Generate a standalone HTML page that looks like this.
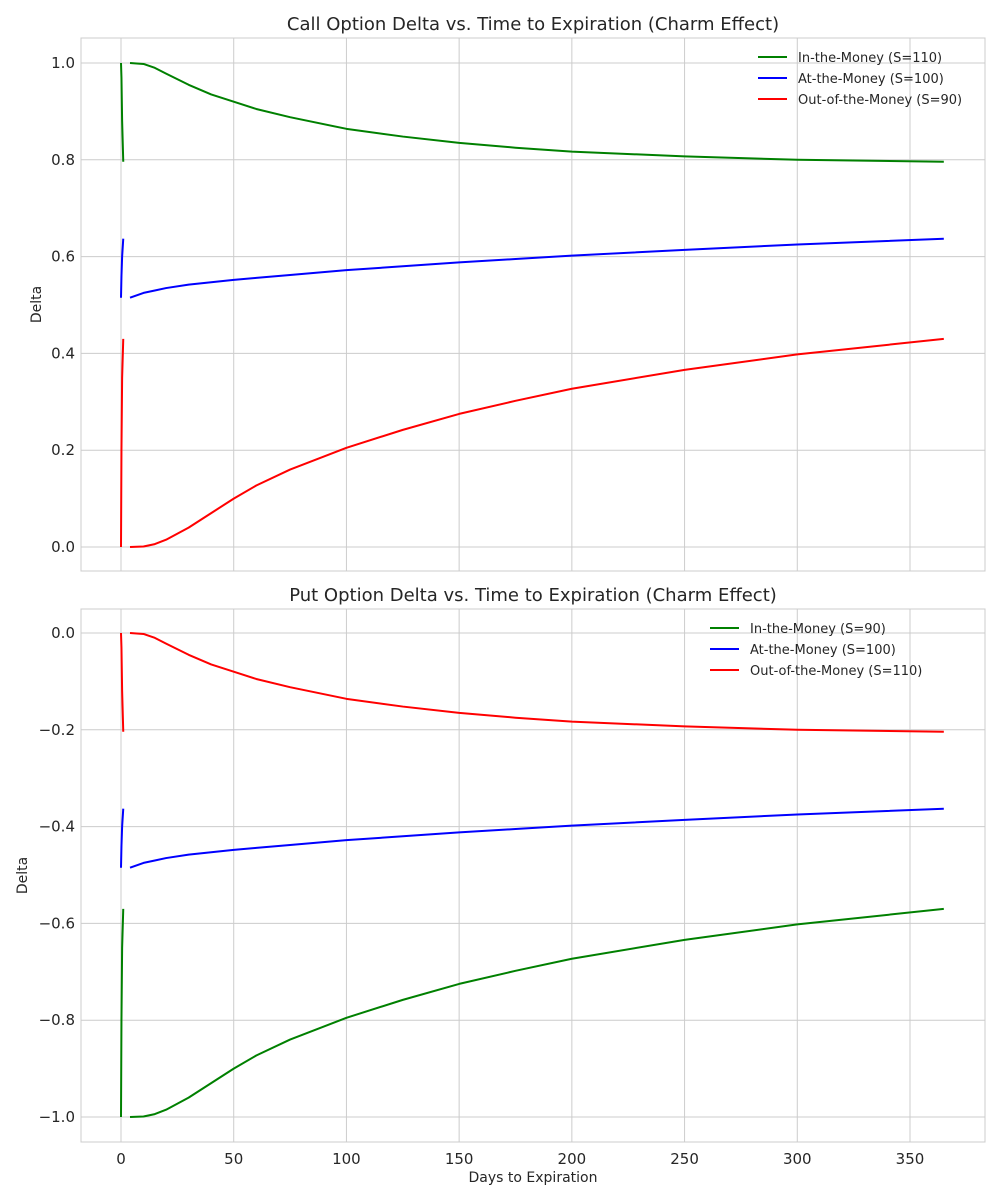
<!DOCTYPE html>
<html><head><meta charset="utf-8"><style>
body{margin:0;background:#fff;}
svg{display:block;font-family:"DejaVu Sans","Liberation Sans",sans-serif;}
</style></head><body>
<svg id="chart" width="1000" height="1200"></svg>
<script>
const days = [4,10,15,20,30,40,50,60,75,100,125,150,175,200,250,300,365];
const spikeDays = [0,0.2,0.5,1];
const callItm = [1.0,0.998,0.99,0.978,0.955,0.935,0.92,0.905,0.888,0.864,0.848,0.835,0.825,0.817,0.807,0.8,0.796];
const callAtm = [0.515,0.525,0.53,0.535,0.542,0.547,0.552,0.556,0.562,0.572,0.58,0.588,0.595,0.602,0.614,0.625,0.637];
const callOtm = [0,0.001,0.006,0.015,0.04,0.07,0.1,0.127,0.16,0.205,0.242,0.275,0.302,0.327,0.366,0.398,0.43];
const callItmSpike = [1.0,0.97,0.88,0.796];
const callAtmSpike = [0.515,0.56,0.6,0.637];
const callOtmSpike = [0,0.2,0.35,0.43];
const putItm = [-1.0,-0.999,-0.994,-0.985,-0.96,-0.93,-0.9,-0.873,-0.84,-0.795,-0.758,-0.725,-0.698,-0.673,-0.634,-0.602,-0.57];
const putAtm = [-0.485,-0.475,-0.47,-0.465,-0.458,-0.453,-0.448,-0.444,-0.438,-0.428,-0.42,-0.412,-0.405,-0.398,-0.386,-0.375,-0.363];
const putOtm = [0,-0.002,-0.01,-0.022,-0.045,-0.065,-0.08,-0.095,-0.112,-0.136,-0.152,-0.165,-0.175,-0.183,-0.193,-0.2,-0.204];
const putItmSpike = [-1.0,-0.8,-0.65,-0.57];
const putAtmSpike = [-0.485,-0.44,-0.4,-0.363];
const putOtmSpike = [0,-0.03,-0.12,-0.204];
const xTicks = [0,50,100,150,200,250,300,350];
const callTicks = [0,0.2,0.4,0.6,0.8,1.0];
const putTicks = [0,-0.2,-0.4,-0.6,-0.8,-1.0];

const NS="http://www.w3.org/2000/svg";
const svg=document.getElementById('chart');
function mk(tag,attrs,parent){const e=document.createElementNS(NS,tag);for(const k in attrs)e.setAttribute(k,attrs[k]);(parent||svg).appendChild(e);return e;}
const X=d=>121+d*(789/350);
function fmt(v){const s=Math.abs(v).toFixed(1);return (v<0?'\u2212':'')+s;}

function panel(name,top,bottom,yZeroPx,yScale,yOffset,title,ticks,series,labels,showX){
  const Y=v=>yZeroPx-(v-yOffset)*yScale;
  const g=mk('g',{});
  
  
  xTicks.forEach(t=>{const l=mk('line',{x1:X(t),x2:X(t),y1:top,y2:bottom,stroke:'#cccccc','stroke-width':1},g);
    
    if(showX){
    const tx=mk('text',{x:X(t),y:bottom+22,'font-size':15,'text-anchor':'middle',fill:'#262626'},g);
    tx.textContent=t;}});
  ticks.forEach(t=>{const l=mk('line',{x1:81,x2:985,y1:Y(t),y2:Y(t),stroke:'#cccccc','stroke-width':1},g);
    
    const tx=mk('text',{x:75,y:Y(t)+5,'font-size':15,'text-anchor':'end',fill:'#262626'},g);
    tx.textContent=fmt(t);});
  const fr=mk('rect',{x:81,y:top,width:904,height:bottom-top,fill:'none',stroke:'#cccccc','stroke-width':1},g);
  
  const ti=mk('text',{x:533,y:top-8,'font-size':18,'text-anchor':'middle',fill:'#262626'},g);
  ti.textContent=title;
  const yl=mk('text',{x:0,y:0,'font-size':14,'text-anchor':'middle',fill:'#262626',transform:`translate(${name==='call-panel'?41:27},${(top+bottom)/2}) rotate(-90)`},g);
  yl.textContent='Delta';
  series.forEach(s=>{
    const p=mk('polyline',{points:days.map((d,i)=>X(d)+','+Y(s.vals[i])).join(' '),fill:'none',stroke:s.color,'stroke-width':2,'stroke-linejoin':'round'},g);
    
    const q=mk('polyline',{points:spikeDays.map((d,i)=>X(d)+','+Y(s.spike[i])).join(' '),fill:'none',stroke:s.color,'stroke-width':2},g);
    
  });
  const lx=labels.x;
  series.forEach((s,i)=>{const y=top+19+i*21;
    const l=mk('line',{x1:lx,x2:lx+29,y1:y,y2:y,stroke:s.color,'stroke-width':2},g);
    
    const t=mk('text',{x:lx+40,y:y+5,'font-size':13,fill:'#262626'},g);
    t.textContent=labels.t[i];});
  if(showX){const xl=mk('text',{x:533,y:bottom+40,'font-size':14,'text-anchor':'middle',fill:'#262626'},g);
    xl.textContent='Days to Expiration';}
}
panel('call-panel',38,571,547,484,0,'Call Option Delta vs. Time to Expiration (Charm Effect)',callTicks,
 [{name:'itm',color:'#008000',vals:callItm,spike:callItmSpike},{name:'atm',color:'#0000ff',vals:callAtm,spike:callAtmSpike},{name:'otm',color:'#ff0000',vals:callOtm,spike:callOtmSpike}],
 {x:758,t:['In-the-Money (S=110)','At-the-Money (S=100)','Out-of-the-Money (S=90)']},false);
panel('put-panel',609,1142,633,484,0,'Put Option Delta vs. Time to Expiration (Charm Effect)',putTicks,
 [{name:'itm',color:'#008000',vals:putItm,spike:putItmSpike},{name:'atm',color:'#0000ff',vals:putAtm,spike:putAtmSpike},{name:'otm',color:'#ff0000',vals:putOtm,spike:putOtmSpike}],
 {x:710,t:['In-the-Money (S=90)','At-the-Money (S=100)','Out-of-the-Money (S=110)']},true);
</script>
</body></html>
